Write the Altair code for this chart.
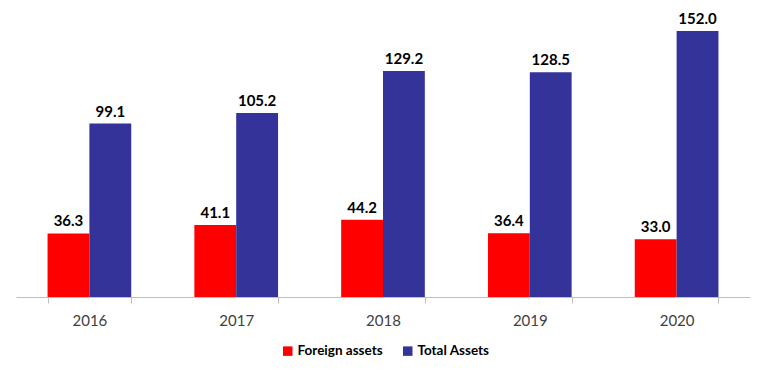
import altair as alt
import pandas as pd

years = ["2016", "2017", "2018", "2019", "2020"]
foreign = [36.3, 41.1, 44.2, 36.4, 33.0]
total = [99.1, 105.2, 129.2, 128.5, 152.0]
series = ["Foreign assets", "Total Assets"]
colors = ["#ff0000", "#333399"]

rows = []
for i, y in enumerate(years):
    rows.append({"year": y, "series": series[0], "value": foreign[i]})
    rows.append({"year": y, "series": series[1], "value": total[i]})
df = pd.DataFrame(rows)

FONT = "Lato"

base = alt.Chart(df).encode(
    x=alt.X("year:N", title=None,
            scale=alt.Scale(paddingInner=0.43, paddingOuter=0.215),
            axis=alt.Axis(labelAngle=0, labelFontSize=15, labelColor="#404040",
                          labelFont=FONT, labelPadding=10, domainColor="#bfbfbf",
                          tickColor="#bfbfbf", tickSize=6, tickBand="extent",
                          grid=False)),
    xOffset=alt.XOffset("series:N", sort=series),
    y=alt.Y("value:Q", title=None, scale=alt.Scale(domain=[0, 160], nice=False),
            axis=None),
)

bars = base.mark_bar().encode(
    color=alt.Color("series:N", sort=series, title=None,
                    scale=alt.Scale(domain=series, range=colors),
                    legend=alt.Legend(orient="none", legendX=265, legendY=327,
                                      direction="horizontal",
                                      symbolType="square", symbolSize=90,
                                      labelFontSize=13.5, labelFontWeight="bold",
                                      labelFont=FONT, labelColor="#000000",
                                      labelOffset=3,
                                      columnPadding=18,
                                      symbolStrokeWidth=0)),
)

labels = base.mark_text(dy=-7, fontSize=15, fontWeight="bold", font=FONT,
                        color="#000000", baseline="alphabetic").encode(
    text=alt.Text("value:Q", format=".1f"),
)

chart = alt.layer(bars, labels).properties(
    width=734, height=280,
    padding={"left": 8, "top": 4, "right": 10, "bottom": 0},
).configure_view(stroke=None)

chart.save("out.html", embed_options={"renderer": "svg", "actions": False})
